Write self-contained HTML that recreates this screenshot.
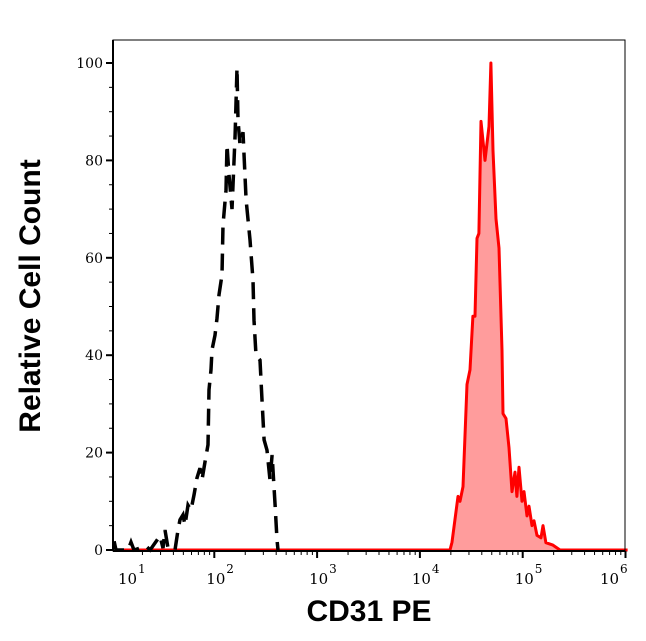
<!DOCTYPE html>
<html><head><meta charset="utf-8"><style>
body{margin:0;background:#fff;}
svg{display:block;}
</style></head><body>
<svg id="chart" width="646" height="641" xmlns="http://www.w3.org/2000/svg">
<text x="0" y="0" transform="translate(40,296) rotate(-90)" text-anchor="middle" font-family="Liberation Sans, sans-serif" font-weight="bold" font-size="30">Relative Cell Count</text>
<text x="369" y="621" text-anchor="middle" font-family="Liberation Sans, sans-serif" font-weight="bold" font-size="30">CD31 PE</text>
<g id="plot"></g>
</svg>
<script>
const yTicks=[0,20,40,60,80,100];
const xDecades=[1,2,3,4,5,6];
const redLog=[1.03,4.25,4.293,4.312,4.371,4.390,4.419,4.458,4.487,4.516,4.536,4.555,4.574,4.594,4.633,4.672,4.691,4.711,4.740,4.769,4.799,4.808,4.838,4.867,4.896,4.925,4.944,4.964,4.993,5.013,5.042,5.061,5.090,5.110,5.139,5.178,5.197,5.226,5.294,5.363,6.02];
const redCount=[0,0,0,1.6,11,10,13,34,37,48,48,64,65,88,80,87,100,82,68,62,41,28,27,21,12,16,11,17,10,12,7,9,5,6,3,2.5,5,1.5,1,0,0];
const blackLog=[1.025,1.044,1.161,1.190,1.219,1.336,1.375,1.472,1.501,1.520,1.550,1.618,1.647,1.666,1.696,1.715,1.744,1.773,1.803,1.832,1.861,1.880,1.910,1.939,1.948,1.968,1.978,2.007,2.026,2.046,2.075,2.085,2.114,2.124,2.143,2.172,2.202,2.221,2.231,2.250,2.279,2.309,2.347,2.376,2.386,2.406,2.445,2.464,2.484,2.513,2.542,2.562,2.591,2.610,2.620];
const blackCount=[1.8,0,0,1.6,0,0.8,0,2.9,0.4,4.1,0.4,0,4.1,6.2,7.2,5.1,9.2,8.2,11.3,14.8,16.8,14.4,18.1,21.6,32.9,37.0,41.1,44.1,47.6,52.4,56.5,66.7,73.9,83.2,77.0,70.0,85.2,99.0,88.3,83.2,85.8,71.9,63.7,55.4,47.2,40.0,39.0,30.8,22.6,20.5,14.4,19.5,9.2,2.1,0];

const L=113,R=625,T=40,B=551;
const xs=v=>111.5+(v-1)*102.8;
const ys=v=>550-v*4.87;
const NS='http://www.w3.org/2000/svg';
const g=document.getElementById('plot');
function mk(t,a){const e=document.createElementNS(NS,t);for(const k in a)e.setAttribute(k,a[k]);g.appendChild(e);return e;}

let d='M'+xs(redLog[0])+','+ys(0);
redLog.forEach((v,i)=>{d+=' L'+xs(v).toFixed(1)+','+ys(redCount[i]).toFixed(1);});
const fill=mk('path',{d:d+' L'+xs(redLog[redLog.length-1])+','+ys(0)+' Z',fill:'#ff9c9c',stroke:'none'});


let d2='';
redLog.forEach((v,i)=>{d2+=(i?' L':'M')+xs(v).toFixed(1)+','+ys(redCount[i]).toFixed(1);});
const red=mk('path',{d:d2,fill:'none',stroke:'#ff0000','stroke-width':3,'stroke-linejoin':'round'});



let d3='';
blackLog.forEach((v,i)=>{d3+=(i?' L':'M')+xs(v).toFixed(1)+','+ys(blackCount[i]).toFixed(1);});
const blk=mk('path',{d:d3,fill:'none',stroke:'#000','stroke-width':3.5,'stroke-dasharray':'17,9'});



const fr=mk('rect',{x:L,y:T,width:R-L,height:B-T,fill:'none',stroke:'#000','stroke-width':1});


const ya=mk('line',{x1:L,y1:T,x2:L,y2:B,stroke:'#000','stroke-width':2});


const xa=mk('line',{x1:L,y1:B,x2:R,y2:B,stroke:'#000','stroke-width':2});



for(let v=0;v<=100;v+=5){
  const major=v%20===0;
  const t=mk('line',{x1:L-(major?7:4),y1:ys(v),x2:L,y2:ys(v),stroke:'#000','stroke-width':major?2:1});
  
  
}
yTicks.forEach(v=>{
  const t=mk('text',{x:L-10,y:ys(v)+5,'text-anchor':'end','font-family':'DejaVu Serif, Liberation Serif, serif','font-size':14});
  t.textContent=v;
  
  
});
xDecades.forEach(dd=>{
  if(xs(dd)>=L-1&&xs(dd)<=R+1){
    const t=mk('line',{x1:xs(dd),y1:B,x2:xs(dd),y2:B+7,stroke:'#000','stroke-width':2});
    
    
  }
  if(dd<6){for(let m=2;m<10;m++){const p=xs(dd+Math.log10(m));if(p<L||p>R)continue;
    const t=mk('line',{x1:p,y1:B,x2:p,y2:B+4,stroke:'#000','stroke-width':1});
    
    }}
  const lx=Math.min(600,Math.max(118,xs(dd)-8));
  const lab=mk('text',{x:lx,y:584,'font-family':'DejaVu Serif, Liberation Serif, serif','font-size':15});
  lab.textContent='10';
  
  
  const sup=mk('text',{x:lx+20,y:573,'font-family':'DejaVu Serif, Liberation Serif, serif','font-size':12});
  sup.textContent=dd;
  
  
});
</script>
</body></html>
